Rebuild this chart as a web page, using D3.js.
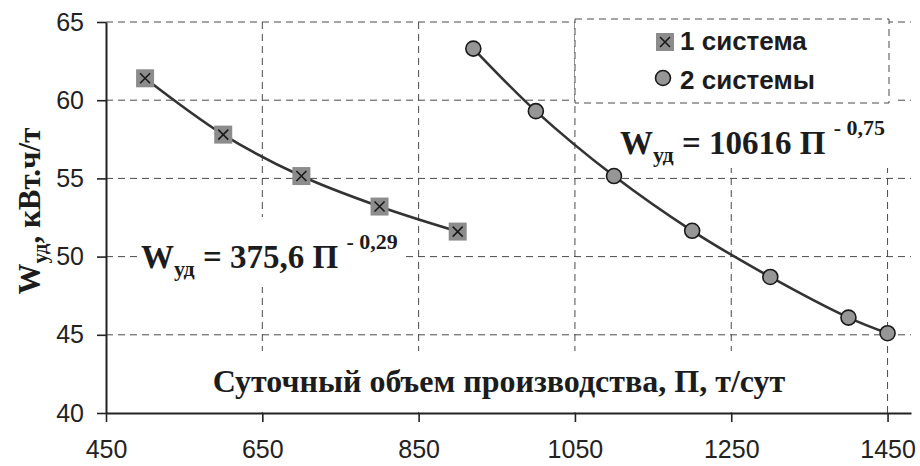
<!DOCTYPE html>
<html>
<head>
<meta charset="utf-8">
<script src="https://cdn.jsdelivr.net/npm/d3@7/dist/d3.min.js"></script>
<style>
  html, body { margin: 0; padding: 0; background: #fff; }
  svg { display: block; }
</style>
</head>
<body>
<svg id="chart" width="920" height="466"></svg>
<script>
// ---- data ----
const xTicks = [450, 650, 850, 1050, 1250, 1450];
const yTicks = [40, 45, 50, 55, 60, 65];
const series1Name = "1 система";
const series1X = [500, 600, 700, 800, 900];
const series1Y = [61.4, 57.8, 55.15, 53.2, 51.6];
const series2Name = "2 системы";
const series2X = [920, 1000, 1100, 1200, 1300, 1400, 1450];
const series2Y = [63.3, 59.3, 55.15, 51.65, 48.7, 46.1, 45.1];
const xTitle = "Суточный объем производства, П, т/сут";
const eq1 = { main: "W", sub: "уд", mid: " = 375,6 П ", sup: "- 0,29" };
const eq2 = { main: "W", sub: "уд", mid: " = 10616 П ", sup: "- 0,75" };

// ---- setup ----
const svg = d3.select("#chart");
const pLeft = 106, pRight = 911, pTop = 22, pBottom = 413;
const x = d3.scaleLinear().domain([450, 1480]).range([pLeft, pRight]);
const y = d3.scaleLinear().domain([40, 65]).range([pBottom, pTop]);
const serif = "'Liberation Serif', 'Times New Roman', serif";
const sans = "'Liberation Sans', Arial, sans-serif";
const ink = "#1c1c1c";

// grid
const grid = svg.append("g").attr("stroke", "#4a4a4a").attr("stroke-width", 1)
  .attr("stroke-dasharray", "7,5").attr("fill", "none");
grid.selectAll("line.h").data(yTicks.filter(d => d > 40)).join("line")
  .attr("class", "h").attr("x1", pLeft).attr("x2", pRight)
  .attr("y1", d => y(d)).attr("y2", d => y(d));
grid.selectAll("line.v").data(xTicks.filter(d => d > 450)).join("line")
  .attr("class", "v").attr("y1", pTop).attr("y2", pBottom)
  .attr("x1", d => x(d)).attr("x2", d => x(d));

// helper: equation text with white background
function equation(eq, px, py, pad) {
  const g = svg.append("g");
  const bg = g.append("rect").attr("fill", "#fff");
  const t = g.append("text").attr("x", px).attr("y", py)
    .attr("font-family", serif).attr("font-weight", "bold").attr("fill", ink);
  t.append("tspan").attr("font-size", 33).text(eq.main);
  t.append("tspan").attr("font-size", 22).attr("dy", 8).text(eq.sub);
  t.append("tspan").attr("font-size", 33).attr("dy", -8).attr("xml:space", "preserve").text(eq.mid);
  t.append("tspan").attr("font-size", 22).attr("dy", -19).text(eq.sup);
  const b = t.node().getBBox();
  bg.attr("x", b.x - pad[3]).attr("y", b.y - pad[0])
    .attr("width", b.width + pad[1] + pad[3]).attr("height", b.height + pad[0] + pad[2]);
  return g;
}
equation(eq1, 141, 268, [12, 6, 6, 3]);
equation(eq2, 620, 154, [22, 10, 1, 8]);

// x title with white background
const xt = svg.append("g");
const xtbg = xt.append("rect").attr("fill", "#fff");
const xtt = xt.append("text").attr("x", 499).attr("y", 392).attr("text-anchor", "middle")
  .attr("font-family", serif).attr("font-weight", "bold").attr("font-size", 32)
  .attr("fill", ink).text(xTitle);
{
  const b = xtt.node().getBBox();
  xtbg.attr("x", b.x - 8).attr("y", b.y - 12).attr("width", b.width + 16).attr("height", pBottom - 1 - (b.y - 12));
}

// y title
const yt = svg.append("text").attr("transform", "translate(40,211) rotate(-90)")
  .attr("text-anchor", "middle").attr("font-family", serif).attr("font-weight", "bold").attr("fill", ink);
yt.append("tspan").attr("font-size", 31).text("W");
yt.append("tspan").attr("font-size", 21).attr("dy", 7).text("уд");
yt.append("tspan").attr("font-size", 31).attr("dy", -7).text(", кВт.ч/т");

// legend
const lg = svg.append("g");
lg.append("rect").attr("x", 575).attr("y", 19).attr("width", 314).attr("height", 84)
  .attr("fill", "#fff").attr("stroke", "#4a4a4a").attr("stroke-width", 1).attr("stroke-dasharray", "7,5");

// markers
function square(g, cx, cy) {
  g.append("rect").attr("x", cx - 9).attr("y", cy - 9).attr("width", 18).attr("height", 18).attr("fill", "#8c8c8c");
  g.append("path").attr("d", `M${cx-5},${cy-5}L${cx+5},${cy+5}M${cx-5},${cy+5}L${cx+5},${cy-5}`)
    .attr("stroke", "#1a1a1a").attr("stroke-width", 1.6);
}
function circle(g, cx, cy) {
  g.append("circle").attr("cx", cx).attr("cy", cy).attr("r", 7.5)
    .attr("fill", "#969696").attr("stroke", "#1a1a1a").attr("stroke-width", 1.6);
}
square(lg, 665, 42);
circle(lg, 663, 78);
lg.append("text").attr("x", 680).attr("y", 50).attr("font-family", sans).attr("font-weight", "bold")
  .attr("font-size", 26).attr("fill", ink).text(series1Name);
lg.append("text").attr("x", 680).attr("y", 89).attr("font-family", sans).attr("font-weight", "bold")
  .attr("font-size", 26).attr("fill", ink).text(series2Name);

// series
const line = d3.line().x(d => x(d[0])).y(d => y(d[1])).curve(d3.curveCatmullRom.alpha(0.5));
const s1 = series1X.map((v, i) => [v, series1Y[i]]);
const s2 = series2X.map((v, i) => [v, series2Y[i]]);
svg.append("path").attr("d", line(s1)).attr("fill", "none").attr("stroke", "#333").attr("stroke-width", 2.6);
svg.append("path").attr("d", line(s2)).attr("fill", "none").attr("stroke", "#333").attr("stroke-width", 2.6);
const m1 = svg.append("g");
s1.forEach(d => square(m1, x(d[0]), y(d[1])));
const m2 = svg.append("g");
s2.forEach(d => circle(m2, x(d[0]), y(d[1])));

// axes
const xAxis = svg.append("g").attr("transform", `translate(0,${pBottom})`)
  .call(d3.axisBottom(x).tickValues(xTicks).tickSize(9).tickSizeOuter(0).tickPadding(18).tickFormat(d3.format("d")));
const yAxis = svg.append("g").attr("transform", `translate(${pLeft},0)`)
  .call(d3.axisLeft(y).tickValues(yTicks).tickSize(9).tickSizeOuter(0).tickPadding(13).tickFormat(d3.format("d")));
[xAxis, yAxis].forEach(a => {
  a.select(".domain").attr("stroke", "#222").attr("stroke-width", 2);
  a.selectAll(".tick line").attr("stroke", "#222").attr("stroke-width", 1.6);
  a.selectAll(".tick text").attr("font-family", sans).attr("font-size", 25).attr("fill", "#222");
});
</script>
</body>
</html>
